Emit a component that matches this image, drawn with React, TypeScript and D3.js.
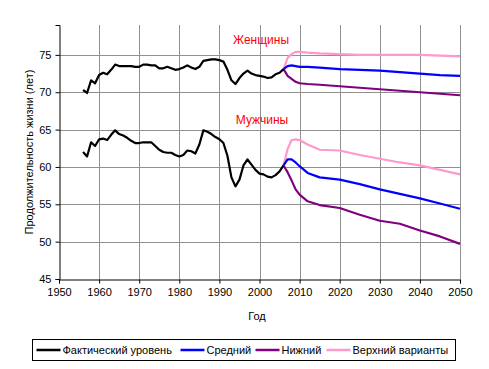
import React, { useRef, useEffect } from 'react';
import * as d3 from 'd3';

// Actual values, 1956-2006
const actualYears = d3.range(1956, 2007);
const femaleActual = [
  70.3, 69.9, 71.6, 71.2, 72.3, 72.6, 72.4, 73.0, 73.7, 73.5,
  73.5, 73.5, 73.5, 73.4, 73.4, 73.7, 73.7, 73.6, 73.6, 73.2,
  73.2, 73.4, 73.2, 73.0, 73.1, 73.3, 73.6, 73.3, 73.1, 73.4,
  74.2, 74.3, 74.4, 74.4, 74.3, 74.1, 73.0, 71.6, 71.1, 71.9,
  72.5, 72.9, 72.5, 72.3, 72.2, 72.1, 71.9, 72.0, 72.4, 72.6,
  73.1,
];
const maleActual = [
  62.0, 61.4, 63.3, 62.8, 63.7, 63.8, 63.6, 64.3, 64.9, 64.4,
  64.2, 63.9, 63.5, 63.2, 63.2, 63.3, 63.3, 63.3, 62.8, 62.3,
  62.0, 61.9, 61.9, 61.6, 61.4, 61.6, 62.2, 62.1, 61.8, 63.0,
  64.9, 64.7, 64.4, 64.0, 63.7, 63.2, 61.5, 58.6, 57.4, 58.3,
  60.2, 61.0, 60.3, 59.6, 59.1, 59.0, 58.7, 58.6, 58.9, 59.4,
  60.2,
];

// Projection variants
const projYears = [2006, 2007, 2008, 2009, 2010, 2012, 2015, 2020, 2025, 2030, 2035, 2040, 2045, 2050];
const femaleHigh = [73.1, 74.6, 75.1, 75.4, 75.4, 75.3, 75.2, 75.1, 75.0, 75.0, 75.0, 75.0, 74.9, 74.8];
const femaleMid = [73.1, 73.5, 73.6, 73.5, 73.4, 73.4, 73.3, 73.1, 73.0, 72.9, 72.7, 72.5, 72.3, 72.2];
const femaleLow = [73.1, 72.2, 71.8, 71.4, 71.2, 71.1, 71.0, 70.8, 70.6, 70.4, 70.2, 70.0, 69.8, 69.6];
const maleHigh = [60.2, 62.4, 63.6, 63.7, 63.6, 63.0, 62.3, 62.2, 61.6, 61.1, 60.6, 60.2, 59.6, 59.0];
const maleMid = [60.2, 61.0, 61.0, 60.6, 60.1, 59.2, 58.6, 58.3, 57.7, 57.0, 56.4, 55.8, 55.1, 54.4];
const maleLow = [60.2, 59.3, 58.2, 57.0, 56.3, 55.4, 54.9, 54.5, 53.6, 52.8, 52.4, 51.5, 50.7, 49.7];

const xTicks = d3.range(1950, 2051, 10);
const yTicks = [45, 50, 55, 60, 65, 70, 75];

const legendItems = [
  { label: 'Фактический уровень', color: '#000000' },
  { label: 'Средний', color: '#0000ff' },
  { label: 'Нижний', color: '#800080' },
  { label: 'Верхний варианты', color: '#ff99cc' },
];

const font = '"Liberation Sans", Arial, sans-serif';

const App: React.FC = () => {
  const width = 489;
  const height = 369;
  const margin = { top: 25, right: 29, bottom: 90, left: 59 };
  const svgRef = useRef<SVGSVGElement | null>(null);

  useEffect(() => {
    const svg = d3.select(svgRef.current);
    svg.selectAll('*').remove();

    const x = d3.scaleLinear().domain([1950, 2050]).range([margin.left, width - margin.right]);
    const y = d3.scaleLinear().domain([45, 79]).range([height - margin.bottom, margin.top]);
    const [y0, y1] = y.range();

    // gridlines
    const grid = svg.append('g').attr('stroke', '#909090').attr('stroke-width', 1);
    grid.selectAll('.vg')
      .data(xTicks.slice(1))
      .enter()
      .append('line')
      .attr('x1', d => Math.round(x(d)) + 0.5)
      .attr('x2', d => Math.round(x(d)) + 0.5)
      .attr('y1', y1)
      .attr('y2', y0);
    grid.selectAll('.hg')
      .data(yTicks.slice(1))
      .enter()
      .append('line')
      .attr('x1', x(1950))
      .attr('x2', x(2050))
      .attr('y1', d => Math.round(y(d)) + 0.5)
      .attr('y2', d => Math.round(y(d)) + 0.5);

    // axes
    const xAxis = svg.append('g')
      .attr('transform', `translate(0,${Math.round(y0) + 0.5})`)
      .call(d3.axisBottom(x).tickValues(xTicks).tickFormat(d3.format('d')).tickSize(4).tickPadding(5));
    const yAxis = svg.append('g')
      .attr('transform', `translate(${Math.round(x(1950)) + 0.5},0)`)
      .call(d3.axisLeft(y).tickValues(yTicks).tickSize(4).tickPadding(4));
    [xAxis, yAxis].forEach(a => {
      a.select('.domain').attr('stroke', '#000').attr('stroke-width', 1);
      a.selectAll('text').attr('font-family', font).attr('font-size', '11px').attr('fill', '#000');
      a.selectAll('line').attr('stroke', '#000');
    });

    // lines
    const line = d3.line<[number, number]>()
      .x(d => x(d[0]))
      .y(d => y(d[1]));
    const series = [
      { years: projYears, values: femaleHigh, color: '#ff99cc' },
      { years: projYears, values: femaleMid, color: '#0000ff' },
      { years: projYears, values: femaleLow, color: '#800080' },
      { years: projYears, values: maleHigh, color: '#ff99cc' },
      { years: projYears, values: maleMid, color: '#0000ff' },
      { years: projYears, values: maleLow, color: '#800080' },
      { years: actualYears, values: femaleActual, color: '#000000' },
      { years: actualYears, values: maleActual, color: '#000000' },
    ];
    svg.append('g')
      .selectAll('path')
      .data(series)
      .enter()
      .append('path')
      .attr('d', s => line(s.years.map((yr, i) => [yr, s.values[i]] as [number, number])))
      .attr('fill', 'none')
      .attr('stroke', s => s.color)
      .attr('stroke-width', 2.2)
      .attr('stroke-linejoin', 'round');

    // group labels
    svg.append('text')
      .attr('x', 261).attr('y', 44)
      .attr('text-anchor', 'middle')
      .attr('font-family', font).attr('font-size', '12px').attr('fill', '#ff0000')
      .text('Женщины');
    svg.append('text')
      .attr('x', 262).attr('y', 124)
      .attr('text-anchor', 'middle')
      .attr('font-family', font).attr('font-size', '12px').attr('fill', '#ff0000')
      .text('Мужчины');

    // axis titles
    svg.append('text')
      .attr('transform', `translate(33,${(y0 + y1) / 2}) rotate(-90)`)
      .attr('text-anchor', 'middle')
      .attr('font-family', font).attr('font-size', '11px').attr('fill', '#000')
      .text('Продолжительность жизни (лет)');
    svg.append('text')
      .attr('x', 257).attr('y', 320)
      .attr('text-anchor', 'middle')
      .attr('font-family', font).attr('font-size', '11px').attr('fill', '#000')
      .text('Год');

    // legend
    const legend = svg.append('g').attr('transform', 'translate(32.5,339.5)');
    legend.append('rect')
      .attr('width', 423).attr('height', 21)
      .attr('fill', '#fff').attr('stroke', '#000').attr('stroke-width', 1);
    const starts = [4, 148, 223, 294];
    legendItems.forEach((item, i) => {
      const g = legend.append('g').attr('transform', `translate(${starts[i]},0)`);
      g.append('line')
        .attr('x1', 0).attr('x2', 24)
        .attr('y1', 10.5).attr('y2', 10.5)
        .attr('stroke', item.color).attr('stroke-width', 2.5);
      g.append('text')
        .attr('x', 26).attr('y', 14.5)
        .attr('font-family', font).attr('font-size', '11px').attr('fill', '#000')
        .text(item.label);
    });
  }, []);

  return (
    <svg
      ref={svgRef}
      width={width}
      height={height}
      style={{ position: 'absolute', left: 0, top: 0, background: '#fff' }}
    />
  );
};

export default App;
